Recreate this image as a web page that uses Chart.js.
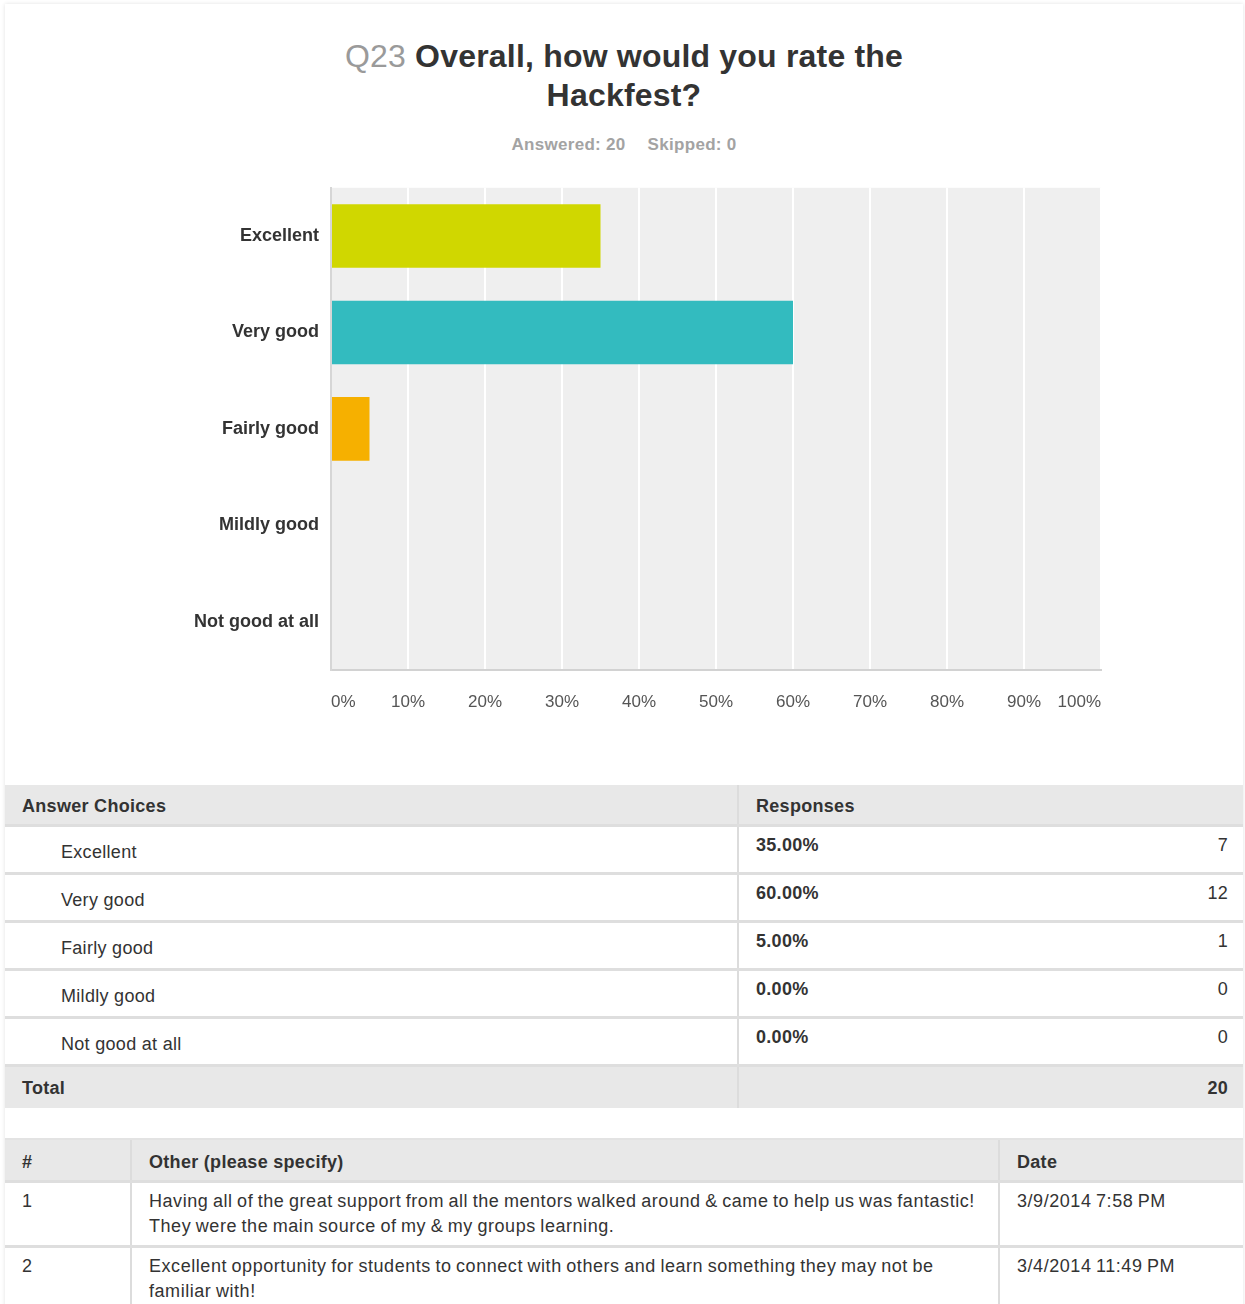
<!DOCTYPE html>
<html>
<head>
<meta charset="utf-8">
<script src="https://cdn.jsdelivr.net/npm/chart.js@4/dist/chart.umd.min.js"></script>
<style>
  html, body { margin: 0; padding: 0; background: #fff; }
  body { width: 1245px; height: 1304px; position: relative; overflow: hidden; font-family: "Liberation Sans", Arial, sans-serif; color: #333; }
  .card { position: absolute; left: 5px; top: 4px; width: 1238px; height: 1320px; box-shadow: 0 0 4px rgba(0,0,0,0.12); background: #fff; }
  .title { position: absolute; left: 5px; width: 1238px; top: 37px; text-align: center; font-size: 32px; line-height: 39px; font-weight: bold; color: #333; letter-spacing: 0.2px; }
  .title .qn { color: #9a9a9a; font-weight: normal; }
  .sub { position: absolute; left: 5px; width: 1238px; top: 134px; text-align: center; font-size: 17px; line-height: 22px; font-weight: bold; color: #a3a3a3; letter-spacing: 0.3px; }
  .sub span + span { margin-left: 22px; }
  .chart-wrap { position: absolute; left: 0; top: 165px; width: 1245px; height: 565px; }
  table { position: absolute; left: 5px; width: 1238px; border-collapse: collapse; table-layout: fixed; font-size: 18px; letter-spacing: 0.3px; }
  td, th { padding: 0; vertical-align: top; text-align: left; line-height: 20px; }
  #answers { top: 785px; }
  #answers th { background: #e8e8e8; height: 40px; padding-top: 11px; box-sizing: border-box; font-weight: bold; }
  #answers td { height: 48px; box-sizing: border-box; border-top: 3px solid #dedede; }
  #answers td.lab { padding: 15px 0 0 56px; }
  #answers td.pct { padding: 8px 0 0 17px; font-weight: bold; border-left: 2px solid #dcdcdc; }
  #answers td.cnt { padding: 8px 15px 0 0; text-align: right; }
  #answers th.resp { padding-left: 17px; border-left: 2px solid #dcdcdc; }
  #answers tr.total td { background: #e8e8e8; font-weight: bold; height: 43px; padding-top: 11px; }
  #answers tr.total td.first { padding-left: 17px; }
  #others { top: 1138px; }
  #others th { background: #e8e8e8; height: 42px; padding: 12px 0 0 17px; box-sizing: border-box; font-weight: bold; border-left: 2px solid #dcdcdc; border-top: 2px solid #e3e3e3; }
  #others th:first-child { border-left: none; }
  #others td { padding: 6px 0 0 17px; line-height: 25px; box-sizing: border-box; height: 65px; border-top: 3px solid #dedede; border-left: 2px solid #dcdcdc; white-space: nowrap; letter-spacing: 0.55px; word-spacing: -1px; }
  #others td:first-child { border-left: none; }
</style>
</head>
<body>
<div class="card"></div>
<div class="title"><span class="qn">Q23</span> Overall, how would you rate the<br>Hackfest?</div>
<div class="sub"><span>Answered: 20</span><span>Skipped: 0</span></div>
<div class="chart-wrap"><canvas id="bar-chart"></canvas></div>
<table id="answers"></table>
<table id="others"></table>

<script>
const categories = ['Excellent', 'Very good', 'Fairly good', 'Mildly good', 'Not good at all'];
const percents   = [35, 60, 5, 0, 0];
const counts     = [7, 12, 1, 0, 0];
const barColors  = ['#d0d700', '#33bbbf', '#f6b000', '#6f96a8', '#9c73ad'];
const xTicks     = [0, 10, 20, 30, 40, 50, 60, 70, 80, 90, 100];
const totalCount = 20;

const commentNums  = ['1', '2'];
const commentLines = [
  ['Having all of the great support from all the mentors walked around & came to help us was fantastic!', 'They were the main source of my & my groups learning.'],
  ['Excellent opportunity for students to connect with others and learn something they may not be', 'familiar with!']
];
const commentDates = ['3/9/2014 7:58 PM', '3/4/2014 11:49 PM'];

// grey plot area behind the bars
const plotBg = {
  id: 'plotBg',
  beforeDraw(chart) {
    const a = chart.chartArea, c = chart.ctx;
    c.save();
    c.fillStyle = '#efefef';
    c.fillRect(a.left, a.top, a.right - a.left, a.bottom - a.top);
    c.restore();
  }
};

new Chart(document.getElementById('bar-chart'), {
  type: 'bar',
  data: {
    labels: categories,
    datasets: [{ data: percents, backgroundColor: barColors, borderWidth: 0, categoryPercentage: 1, barPercentage: 0.66 }]
  },
  options: {
    indexAxis: 'y',
    responsive: true, maintainAspectRatio: false,
    animation: false,
    layout: { padding: { top: 8, right: 144, left: 0, bottom: 0 } },
    plugins: { legend: { display: false }, tooltip: { enabled: false } },
    scales: {
      x: {
        min: 0, max: 100,
        afterBuildTicks: function(s) { s.ticks = xTicks.map(function(v){ return { value: v }; }); },
        afterFit: function(s) { s.height = 60; },
        ticks: { callback: function(v){ return v + '%'; }, align: 'inner', padding: 22, color: '#555', font: { family: 'Liberation Sans, Arial', size: 17 } },
        grid: { color: function(ctx){ return ctx.tick && ctx.tick.value === 0 ? 'rgba(0,0,0,0)' : '#ffffff'; }, lineWidth: 2, drawTicks: false },
        border: { color: '#d2d2d2', width: 2 }
      },
      y: {
        afterFit: function(s) { s.width = 331; },
        ticks: { color: '#333', padding: 12, font: { family: 'Liberation Sans, Arial', size: 18, weight: 'bold' } },
        grid: { display: false, drawTicks: false },
        border: { color: '#d6d6d6', width: 2 }
      }
    }
  },
  plugins: [plotBg]
});

// answer choices table
let html = '<colgroup><col style="width:733px"><col style="width:300px"><col></colgroup>';
html += '<tr><th style="padding-left:17px">Answer Choices</th><th class="resp" colspan="2">Responses</th></tr>';
for (let i = 0; i < categories.length; i++) {
  html += '<tr><td class="lab">' + categories[i] + '</td><td class="pct">' + percents[i].toFixed(2) + '%</td><td class="cnt">' + counts[i] + '</td></tr>';
}
html += '<tr class="total"><td class="first">Total</td><td class="pct"></td><td class="cnt">' + totalCount + '</td></tr>';
document.getElementById('answers').innerHTML = html;

// comments table
let html2 = '<colgroup><col style="width:126px"><col style="width:868px"><col></colgroup>';
html2 += '<tr><th>#</th><th>Other (please specify)</th><th>Date</th></tr>';
for (let i = 0; i < commentNums.length; i++) {
  html2 += '<tr><td>' + commentNums[i] + '</td><td>' + commentLines[i].join('<br>') + '</td><td>' + commentDates[i] + '</td></tr>';
}
document.getElementById('others').innerHTML = html2;
</script>
</body>
</html>
